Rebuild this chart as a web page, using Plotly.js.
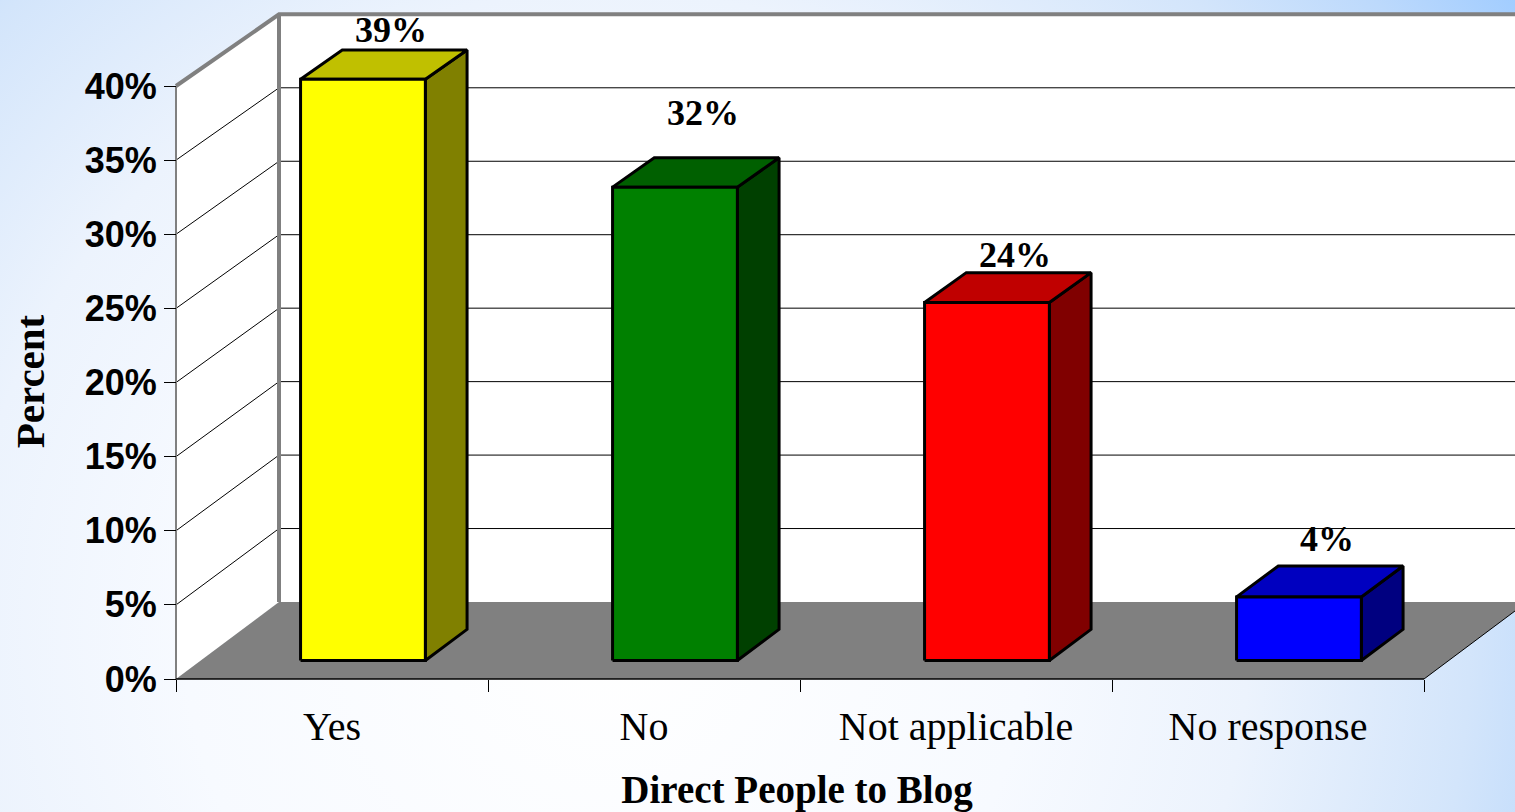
<!DOCTYPE html>
<html><head><meta charset="utf-8">
<script src="https://cdn.plot.ly/plotly-3.0.1.min.js"></script>
<style>
html,body{margin:0;padding:0;}
body{width:1515px;height:812px;overflow:hidden;
background: radial-gradient(circle farthest-corner at 40% 78%, #ffffff 0%, #f7faff 38%, #ecf3fd 58%, #d3e5fb 78%, #bcd9fc 90%, #a2cdff 100%);}
#chart{width:1515px;height:812px;}
</style></head><body><div id="chart"></div>
<script>
// ---- data ----
const categories = ["Yes", "No", "Not applicable", "No response"];
const percentValues = [39.3, 32.0, 24.2, 4.3];
const yTickValues = [0, 5, 10, 15, 20, 25, 30, 35, 40];
const yTickLabels = ["0%", "5%", "10%", "15%", "20%", "25%", "30%", "35%", "40%"];

// ---- styles ----
const frontColors = ["#FFFF00", "#008000", "#FF0000", "#0000FF"];
const topColors   = ["#C0C000", "#006000", "#C00000", "#0000C0"];
const sideColors  = ["#808000", "#004000", "#800000", "#000080"];
const labelYShift = [35, 59, 33, 42];

// ---- geometry (pixels) ----
const W = 1515, H = 812;
const axisLeftPx = 176, catPx = 312, zeroPx = 679, pxPerPct = 14.825;
const domLeftPx = 79, domBottomPx = 763;
const depthDX = 103 / catPx;        // in category units
const depthDY = 77 / pxPerPct;      // in percent units
const persp = 0.009;
const yMax = yTickValues[yTickValues.length - 1];
const barZ0 = 0.24, barZ1 = 0.645, barHalf = 0.2, barShift = 0.02;
const xMin = -0.5, xMax = categories.length - 0.5;

function P(x, v, z) { return [x + z * depthDX, v * (1 - persp * z) + z * depthDY]; }

function fillTrace(pts, fill, lineColor, lineWidth) {
  const xs = pts.map(p => p[0]).concat([pts[0][0]]);
  const ys = pts.map(p => p[1]).concat([pts[0][1]]);
  return {type: 'scatter', mode: 'lines', x: xs, y: ys, fill: 'toself', fillcolor: fill,
    line: {color: lineColor, width: lineWidth}, hoverinfo: 'skip', showlegend: false};
}
function segTrace(segs, color, width) {
  const xs = [], ys = [];
  segs.forEach(s => { s.forEach(p => { xs.push(p[0]); ys.push(p[1]); }); xs.push(null); ys.push(null); });
  return {type: 'scatter', mode: 'lines', x: xs, y: ys, line: {color: color, width: width},
    hoverinfo: 'skip', showlegend: false, connectgaps: false};
}

const traces = [];
// walls and floor
traces.push(fillTrace([P(xMin,0,0), P(xMin,0,1), P(xMin,yMax,1), P(xMin,yMax,0)], '#FFFFFF', 'rgba(0,0,0,0)', 0));
traces.push(fillTrace([P(xMin,0,1), P(xMax,0,1), P(xMax,yMax,1), P(xMin,yMax,1)], '#FFFFFF', 'rgba(0,0,0,0)', 0));
traces.push(fillTrace([P(xMin,0,0), P(xMax,0,0), P(xMax,0,1), P(xMin,0,1)], '#808080', 'rgba(0,0,0,0)', 0));
// gridlines
const inner = yTickValues.filter(v => v > 0 && v < yMax);
traces.push(segTrace(inner.map(v => [P(xMin,v,1), P(xMax,v,1)]), '#000000', 1));
traces.push(segTrace(inner.map(v => [P(xMin,v,0), P(xMin,v,1)]), '#000000', 1));
// wall edges
traces.push(segTrace([[P(xMin,0,0), P(xMin,yMax,0)]], '#808080', 2));
traces.push(segTrace([[P(xMin,0,1), P(xMin,yMax,1)], [P(xMin,yMax,0), P(xMin,yMax,1), P(xMax,yMax,1)]], '#808080', 4));
traces.push(segTrace([[P(xMax,0,0), P(xMax,0,1)]], '#000000', 1));
traces.push(segTrace([[P(xMin,0,0), P(xMax,0,0)]], '#000000', 1.5));

// bars
const annotations = [];
percentValues.forEach((v, i) => {
  const cx = i + barShift, xl = cx - barHalf, xr = cx + barHalf;
  traces.push(fillTrace([P(xr,0,barZ0), P(xr,0,barZ1), P(xr,v,barZ1), P(xr,v,barZ0)], sideColors[i], '#000000', 3));
  traces.push(fillTrace([P(xl,v,barZ0), P(xr,v,barZ0), P(xr,v,barZ1), P(xl,v,barZ1)], topColors[i], '#000000', 3));
  traces.push(fillTrace([P(xl,0,barZ0), P(xr,0,barZ0), P(xr,v,barZ0), P(xl,v,barZ0)], frontColors[i], '#000000', 3));
  const lp = P(cx, v, (barZ0 + barZ1) / 2);
  annotations.push({x: lp[0], y: lp[1], xref: 'x', yref: 'y', text: Math.round(v) + '%', showarrow: false,
    xshift: 7, yshift: labelYShift[i],
    font: {family: 'Liberation Serif, Times New Roman, serif', size: 36, weight: 'bold', color: '#000000'}});
});

const xRange = [xMin + (domLeftPx - axisLeftPx) / catPx, xMin + (W - axisLeftPx) / catPx];
const yRange = [(zeroPx - domBottomPx) / pxPerPct, zeroPx / pxPerPct];
const boundaries = [];
for (let k = 0; k <= categories.length; k++) boundaries.push(xMin + k);

const layout = {
  width: W, height: H,
  margin: {l: 0, r: 0, t: 0, b: 0, pad: 0},
  paper_bgcolor: 'rgba(0,0,0,0)', plot_bgcolor: 'rgba(0,0,0,0)',
  showlegend: false,
  xaxis: {
    domain: [domLeftPx / W, 1], range: xRange, anchor: 'free', position: (H - zeroPx) / H,
    tickmode: 'array', tickvals: categories.map((c, i) => i), ticktext: categories,
    ticks: '', showline: false, showgrid: false, zeroline: false, fixedrange: true,
    ticklabelstandoff: 20,
    tickfont: {family: 'Liberation Serif, Times New Roman, serif', size: 40, color: '#000000'},
    minor: {tickmode: 'array', tickvals: boundaries, ticks: 'outside', ticklen: 12, tickwidth: 1, tickcolor: '#000000', showgrid: false},
    title: {text: 'Direct People to Blog', standoff: 30,
      font: {family: 'Liberation Serif, Times New Roman, serif', size: 39, weight: 'bold', color: '#000000'}}
  },
  yaxis: {
    domain: [(H - domBottomPx) / H, 1], range: yRange, anchor: 'free', position: axisLeftPx / W,
    tickmode: 'array', tickvals: yTickValues, ticktext: yTickLabels,
    ticks: 'outside', ticklen: 12, tickwidth: 1, tickcolor: '#000000',
    showline: false, showgrid: false, zeroline: false, fixedrange: true,
    tickfont: {family: 'Liberation Sans, Arial, sans-serif', size: 36, weight: 'bold', color: '#000000'},
    title: {text: 'Percent', standoff: 26,
      font: {family: 'Liberation Serif, Times New Roman, serif', size: 41, weight: 'bold', color: '#000000'}}
  },
  annotations: annotations
};

Plotly.newPlot('chart', traces, layout, {displayModeBar: false, staticPlot: true});
</script>
</body></html>
